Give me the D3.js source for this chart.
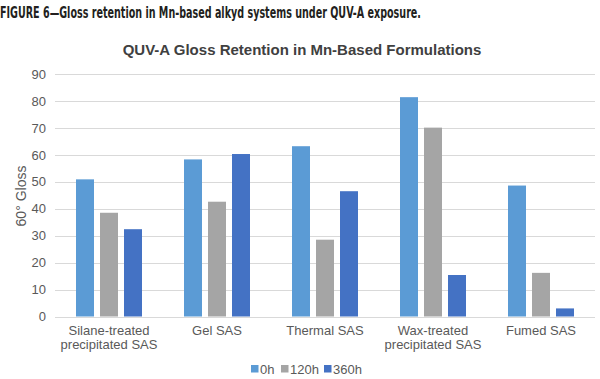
<!DOCTYPE html>
<html>
<head>
<meta charset="utf-8">
<title>QUV-A gloss retention</title>
<style>
    body {
        margin: 0;
        padding: 0;
        background: #ffffff;
    }
    svg {
        display: block;
        font-family: "Liberation Sans", Arial, sans-serif;
    }
    .grid line {
        stroke: #d9d9d9;
        stroke-width: 1;
    }
    .tick text {
        fill: #595959;
        font-size: 13px;
    }
    .cat {
        fill: #595959;
        font-size: 13px;
    }
</style>
</head>
<body>
<svg width="600" height="379"></svg>
<script src="https://d3js.org/d3.v7.min.js"></script>
<script>
// categories + series
var categories = [
    "Silane-treated\nprecipitated SAS",
    "Gel SAS",
    "Thermal SAS",
    "Wax-treated\nprecipitated SAS",
    "Fumed SAS"
];
var seriesNames = ["0h", "120h", "360h"];
var seriesColors = ["#5b9bd5", "#a5a5a5", "#4472c4"];

var gloss0h = [50.9, 58.3, 63.2, 81.4, 48.6];
var gloss120h = [38.5, 42.6, 28.5, 70.1, 16.2];
var gloss360h = [32.4, 60.3, 46.5, 15.4, 3.0];

var yTicks = [0, 10, 20, 30, 40, 50, 60, 70, 80, 90];

var seriesValues = [gloss0h, gloss120h, gloss360h];

var svg = d3.select("svg");

// note: "top" is taken by window.top, so plotTop
var plotLeft = 55, plotRight = 595, plotTop = 74, plotBottom = 316.5;

var x = d3.scaleBand().domain(categories).range([plotLeft, plotRight]);
var xInner = d3.scaleBand().domain(seriesNames).range([21, 87]).paddingInner(0.25);
var y = d3.scaleLinear().domain([0, 90]).range([plotBottom, plotTop]);

// figure caption
svg.append("text")
    .attr("x", 0)
    .attr("y", 18)
    .attr("textLength", 421)
    .attr("lengthAdjust", "spacingAndGlyphs")
    .style("font-family", "'Liberation Sans Narrow', 'DejaVu Sans Condensed', sans-serif")
    .style("font-weight", "bold")
    .style("font-size", "16px")
    .style("fill", "#231f20")
    .text("FIGURE 6\u2014Gloss retention in Mn-based alkyd systems under QUV-A exposure.");

// chart title
svg.append("text")
    .attr("x", 302)
    .attr("y", 55)
    .attr("text-anchor", "middle")
    .style("font-weight", "bold")
    .style("font-size", "15px")
    .style("fill", "#404040")
    .text("QUV-A Gloss Retention in Mn-Based Formulations");

// gridlines
svg.append("g")
    .attr("class", "grid")
    .selectAll("line")
    .data(yTicks)
    .enter()
    .append("line")
    .attr("x1", plotLeft)
    .attr("x2", plotRight)
    .attr("y1", function(d) { return Math.round(y(d)) + 0.5; })
    .attr("y2", function(d) { return Math.round(y(d)) + 0.5; });

// y axis labels
var yAxis = d3.axisLeft(y).tickValues(yTicks).tickSize(0).tickPadding(0);
var yG = svg.append("g")
    .attr("transform", "translate(46,0)")
    .call(yAxis);
yG.select(".domain").remove();
yG.selectAll("text").style("font-family", "'Liberation Sans', Arial, sans-serif");

// y axis title
svg.append("text")
    .attr("transform", "translate(26,196) rotate(-90)")
    .attr("text-anchor", "middle")
    .style("font-size", "14px")
    .style("fill", "#595959")
    .text("60\u00b0 Gloss");

// bars
var groups = svg.selectAll(".group")
    .data(categories)
    .enter()
    .append("g")
    .attr("class", "group")
    .attr("transform", function(d) { return "translate(" + x(d) + ",0)"; });

groups.selectAll("rect")
    .data(function(d, i) {
        return seriesNames.map(function(s, j) {
            return { series: s, value: seriesValues[j][i], color: seriesColors[j] };
        });
    })
    .enter()
    .append("rect")
    .attr("x", function(d) { return xInner(d.series); })
    .attr("width", xInner.bandwidth())
    .attr("y", function(d) { return y(d.value); })
    .attr("height", function(d) { return plotBottom - y(d.value); })
    .style("fill", function(d) { return d.color; });

// category labels, split on \n
svg.selectAll(".cat")
    .data(categories)
    .enter()
    .append("text")
    .attr("class", "cat")
    .attr("text-anchor", "middle")
    .attr("x", function(d) { return x(d) + x.bandwidth() / 2; })
    .attr("y", 335)
    .each(function(d) {
        var lines = d.split("\n");
        var t = d3.select(this);
        lines.forEach(function(l, i) {
            t.append("tspan")
                .attr("x", x(d) + x.bandwidth() / 2)
                .attr("dy", i == 0 ? 0 : 14)
                .text(l);
        });
    });

// legend
var legendX = [251, 281, 324];
var legend = svg.selectAll(".legend")
    .data(seriesNames)
    .enter()
    .append("g")
    .attr("class", "legend")
    .attr("transform", function(d, i) { return "translate(" + legendX[i] + ",369)"; });

legend.append("rect")
    .attr("x", 0)
    .attr("y", -4)
    .attr("width", 7.5)
    .attr("height", 7.5)
    .style("fill", function(d, i) { return seriesColors[i]; });

legend.append("text")
    .attr("x", 9)
    .attr("y", 4.5)
    .style("font-size", "13px")
    .style("fill", "#595959")
    .text(function(d) { return d; });
</script>
</body>
</html>
